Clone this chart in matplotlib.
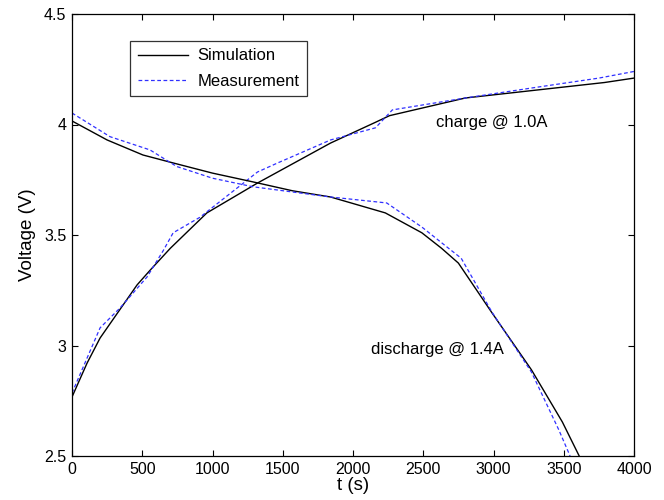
import matplotlib
matplotlib.use("Agg")
import matplotlib.pyplot as plt

plt.rcParams['font.family'] = ['Liberation Sans', 'DejaVu Sans']

# Discharge @ 1.4A
dis_sim_t = [0, 250, 505, 720, 1000, 1290, 1570, 1840, 2230, 2490, 2630, 2750, 2990, 3270, 3490, 3610]
dis_sim_v = [4.016, 3.93, 3.862, 3.826, 3.78, 3.74, 3.70, 3.672, 3.60, 3.51, 3.44, 3.373, 3.147, 2.89, 2.654, 2.50]
dis_meas_t = [0, 270, 555, 745, 1000, 1290, 1840, 2240, 2490, 2680, 2770, 2990, 3270, 3465, 3545]
dis_meas_v = [4.052, 3.945, 3.885, 3.81, 3.757, 3.718, 3.672, 3.645, 3.536, 3.44, 3.395, 3.15, 2.88, 2.618, 2.50]

# Charge @ 1.0A
ch_sim_t = [0, 107, 200, 463, 555, 700, 960, 1320, 1840, 2160, 2260, 2800, 3790, 4000]
ch_sim_v = [2.767, 2.92, 3.034, 3.274, 3.34, 3.44, 3.60, 3.735, 3.916, 4.01, 4.04, 4.12, 4.19, 4.21]
ch_meas_t = [0, 200, 342, 534, 650, 720, 910, 1320, 1460, 1840, 2160, 2280, 2800, 3270, 3750, 4000]
ch_meas_v = [2.785, 3.08, 3.17, 3.31, 3.43, 3.51, 3.58, 3.785, 3.825, 3.93, 3.985, 4.066, 4.12, 4.165, 4.21, 4.24]

x_ticks = [0, 500, 1000, 1500, 2000, 2500, 3000, 3500, 4000]
y_ticks = [2.5, 3.0, 3.5, 4.0, 4.5]
y_tick_labels = ['2.5', '3', '3.5', '4', '4.5']

fig = plt.figure(figsize=(6.64, 5.0), dpi=100)
ax = fig.add_axes([72/664, 1 - 456/500, (634-72)/664, (456-14)/500])

sim_kw = dict(color='black', lw=1.0, ls='-')
meas_kw = dict(color='#3030ff', lw=0.9, ls=(0, (3, 2)))

ax.plot(ch_sim_t, ch_sim_v, label='Simulation', **sim_kw)
ax.plot(ch_meas_t, ch_meas_v, label='Measurement', **meas_kw)
ax.plot(dis_sim_t, dis_sim_v, **sim_kw)
ax.plot(dis_meas_t, dis_meas_v, **meas_kw)

ax.set_xlim(0, 4000)
ax.set_ylim(2.5, 4.5)
ax.set_xticks(x_ticks)
ax.set_yticks(y_ticks)
ax.set_yticklabels(y_tick_labels)
ax.tick_params(direction='in', top=True, right=True, labelsize=11.5, length=4.5, width=0.8, pad=4)
for s in ax.spines.values():
    s.set_linewidth(0.9)

ax.set_xlabel('t (s)', fontsize=13.5, labelpad=0)
ax.set_ylabel('Voltage (V)', fontsize=13.5, labelpad=6)

ax.text(2590, 4.007, 'charge @ 1.0A', fontsize=12, va='center', ha='left')
ax.text(2128, 2.984, 'discharge @ 1.4A', fontsize=12, va='center', ha='left')

leg = ax.legend(loc='upper left', bbox_to_anchor=((130-72)/562, 1 - (41-14)/442),
                borderaxespad=0, fontsize=12, frameon=True, fancybox=False, edgecolor='black',
                handlelength=3.0, borderpad=0.45, labelspacing=0.6, handletextpad=0.6)
leg.get_frame().set_linewidth(0.9)

fig.savefig('out.png', dpi=100)
